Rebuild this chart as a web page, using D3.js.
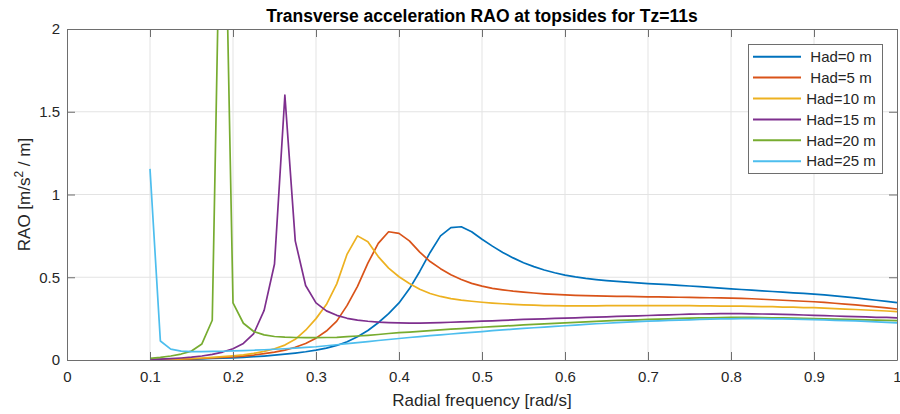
<!DOCTYPE html>
<html>
<head>
<meta charset="utf-8">
<script src="https://cdn.jsdelivr.net/npm/d3@7"></script>
<style>
  html, body { margin: 0; padding: 0; background: #ffffff; }
  svg { display: block; font-family: "Liberation Sans", Arial, Helvetica, sans-serif; }
</style>
</head>
<body>
<svg id="chart" width="900" height="414"></svg>
<script>
// Radial frequency grid [rad/s]
const freq = [
  0.1, 0.1125, 0.125, 0.1375, 0.15, 0.1625, 0.175, 0.1875, 0.2, 0.2125,
  0.225, 0.2375, 0.25, 0.2625, 0.275, 0.2875, 0.3, 0.3125, 0.325, 0.3375,
  0.35, 0.3625, 0.375, 0.3875, 0.4, 0.4125, 0.425, 0.4375, 0.45, 0.4625,
  0.475, 0.4875, 0.5, 0.5125, 0.525, 0.5375, 0.55, 0.5625, 0.575, 0.5875,
  0.6, 0.6125, 0.625, 0.6375, 0.65, 0.6625, 0.675, 0.6875, 0.7, 0.7125,
  0.725, 0.7375, 0.75, 0.7625, 0.775, 0.7875, 0.8, 0.8125, 0.825, 0.8375,
  0.85, 0.8625, 0.875, 0.8875, 0.9, 0.9125, 0.925, 0.9375, 0.95, 0.9625,
  0.975, 0.9875, 1.0
];

// Transverse acceleration RAO [m/s^2 / m] per hull draft
const had0 = [
  0.001, 0.002, 0.003, 0.004, 0.005, 0.007, 0.009, 0.011, 0.013, 0.016,
  0.020, 0.024, 0.029, 0.035, 0.042, 0.050, 0.060, 0.072, 0.088, 0.110,
  0.140, 0.178, 0.225, 0.280, 0.345, 0.430, 0.535, 0.650, 0.750, 0.800,
  0.805, 0.775, 0.730, 0.688, 0.650, 0.617, 0.588, 0.564, 0.544, 0.527,
  0.513, 0.502, 0.493, 0.486, 0.480, 0.475, 0.470, 0.466, 0.462, 0.458,
  0.455, 0.451, 0.447, 0.443, 0.439, 0.434, 0.430, 0.426, 0.422, 0.418,
  0.414, 0.410, 0.406, 0.402, 0.398, 0.393, 0.387, 0.381, 0.375, 0.368,
  0.361, 0.354, 0.347
];
const had5 = [
  0.001, 0.002, 0.003, 0.005, 0.007, 0.009, 0.012, 0.015, 0.019, 0.024,
  0.030, 0.038, 0.048, 0.060, 0.077, 0.100, 0.132, 0.175, 0.235, 0.330,
  0.445, 0.585, 0.705, 0.775, 0.765, 0.720, 0.652, 0.595, 0.552, 0.515,
  0.486, 0.463, 0.446, 0.433, 0.424, 0.416, 0.410, 0.405, 0.400, 0.396,
  0.393, 0.391, 0.389, 0.387, 0.386, 0.385, 0.384, 0.383, 0.382, 0.381,
  0.380, 0.379, 0.378, 0.377, 0.376, 0.375, 0.374, 0.372, 0.370, 0.367,
  0.364, 0.361, 0.358, 0.355, 0.352, 0.348, 0.343, 0.338, 0.333, 0.327,
  0.321, 0.315, 0.308
];
const had10 = [
  0.002, 0.003, 0.005, 0.007, 0.009, 0.012, 0.016, 0.020, 0.025, 0.031,
  0.040, 0.052, 0.068, 0.090, 0.125, 0.180, 0.250, 0.335, 0.460, 0.640,
  0.750, 0.715, 0.625, 0.555, 0.503, 0.462, 0.428, 0.402, 0.384, 0.371,
  0.362, 0.355, 0.349, 0.344, 0.340, 0.336, 0.333, 0.331, 0.329, 0.328,
  0.327, 0.327, 0.327, 0.327, 0.328, 0.328, 0.328, 0.329, 0.329, 0.329,
  0.329, 0.328, 0.328, 0.327, 0.327, 0.326, 0.326, 0.325, 0.324, 0.323,
  0.322, 0.320, 0.319, 0.317, 0.316, 0.314, 0.311, 0.308, 0.305, 0.302,
  0.299, 0.296, 0.292
];
const had15 = [
  0.003, 0.005, 0.008, 0.012, 0.017, 0.024, 0.034, 0.048, 0.068, 0.100,
  0.160, 0.300, 0.580, 1.600, 0.720, 0.450, 0.345, 0.297, 0.270, 0.252,
  0.241, 0.234, 0.229, 0.226, 0.224, 0.223, 0.223, 0.224, 0.226, 0.228,
  0.230, 0.232, 0.235, 0.237, 0.240, 0.242, 0.245, 0.247, 0.249, 0.251,
  0.253, 0.255, 0.257, 0.259, 0.261, 0.263, 0.265, 0.267, 0.269, 0.271,
  0.273, 0.275, 0.277, 0.278, 0.279, 0.280, 0.280, 0.280, 0.279, 0.278,
  0.277, 0.276, 0.274, 0.272, 0.270, 0.268, 0.266, 0.264, 0.262, 0.260,
  0.258, 0.257, 0.255
];
const had20 = [
  0.010, 0.016, 0.024, 0.036, 0.054, 0.097, 0.240, 3.600, 0.345, 0.222,
  0.172, 0.152, 0.142, 0.138, 0.136, 0.135, 0.135, 0.136, 0.137, 0.141,
  0.145, 0.149, 0.154, 0.160, 0.165, 0.169, 0.173, 0.177, 0.182, 0.186,
  0.190, 0.194, 0.198, 0.202, 0.205, 0.208, 0.212, 0.215, 0.218, 0.221,
  0.224, 0.227, 0.230, 0.233, 0.236, 0.239, 0.241, 0.243, 0.245, 0.247,
  0.249, 0.251, 0.253, 0.254, 0.255, 0.256, 0.257, 0.257, 0.257, 0.256,
  0.255, 0.254, 0.253, 0.251, 0.250, 0.249, 0.247, 0.246, 0.244, 0.243,
  0.241, 0.240, 0.238
];
const had25 = [
  1.155, 0.115, 0.066, 0.054, 0.051, 0.051, 0.052, 0.053, 0.055, 0.057,
  0.059, 0.062, 0.065, 0.068, 0.072, 0.076, 0.080, 0.086, 0.092, 0.099,
  0.105, 0.111, 0.118, 0.124, 0.130, 0.136, 0.141, 0.147, 0.152, 0.157,
  0.162, 0.167, 0.172, 0.177, 0.182, 0.186, 0.191, 0.195, 0.199, 0.203,
  0.207, 0.211, 0.215, 0.219, 0.222, 0.226, 0.229, 0.232, 0.235, 0.237,
  0.239, 0.241, 0.243, 0.245, 0.247, 0.248, 0.249, 0.250, 0.250, 0.250,
  0.249, 0.248, 0.247, 0.245, 0.244, 0.242, 0.240, 0.238, 0.236, 0.233,
  0.230, 0.227, 0.224
];

const seriesNames = ["Had=0 m", "Had=5 m", "Had=10 m", "Had=15 m", "Had=20 m", "Had=25 m"];
const seriesValues = [had0, had5, had10, had15, had20, had25];
const seriesColors = ["#0072BD", "#D95319", "#EDB120", "#7E2F8E", "#77AC30", "#4DBEEE"];

const xTicks = [0, 0.1, 0.2, 0.3, 0.4, 0.5, 0.6, 0.7, 0.8, 0.9, 1];
const yTicks = [0, 0.5, 1, 1.5, 2];

const titleText = "Transverse acceleration RAO at topsides for Tz=11s";
const xLabelText = "Radial frequency [rad/s]";

// Plot frame
const plotL = 67, plotR = 897, plotT = 29, plotB = 360;
const axisColor = "#6e6e6e";
const gridColor = "#e3e3e3";
const textColor = "#262626";

const svg = d3.select("#chart");
const x = d3.scaleLinear().domain([0, 1]).range([plotL, plotR]);
const y = d3.scaleLinear().domain([0, 2]).range([plotB, plotT]);

// Grid
const grid = svg.append("g");
grid.selectAll("line.gx").data(xTicks.slice(1, -1)).join("line")
  .attr("x1", d => x(d)).attr("x2", d => x(d))
  .attr("y1", plotT).attr("y2", plotB)
  .attr("stroke", gridColor).attr("stroke-width", 1);
grid.selectAll("line.gy").data(yTicks.slice(1, -1)).join("line")
  .attr("x1", plotL).attr("x2", plotR)
  .attr("y1", d => y(d)).attr("y2", d => y(d))
  .attr("stroke", gridColor).attr("stroke-width", 1);

// Curves, clipped to the axes box
svg.append("clipPath").attr("id", "plotClip")
  .append("rect").attr("x", plotL).attr("y", plotT)
  .attr("width", plotR - plotL).attr("height", plotB - plotT);

const line = d3.line()
  .x((d, i) => x(freq[i]))
  .y(d => y(d));

svg.append("g").attr("clip-path", "url(#plotClip)")
  .selectAll("path").data(seriesValues).join("path")
  .attr("d", d => line(d))
  .attr("fill", "none")
  .attr("stroke", (d, i) => seriesColors[i])
  .attr("stroke-width", 1.7)
  .attr("stroke-linejoin", "round");

// Axes (box with inward ticks on all four sides)
const tickLen = 8;
const fmt = d => d3.format("~g")(d);

const xAxisB = d3.axisBottom(x).tickValues(xTicks).tickSizeInner(-tickLen).tickSizeOuter(0).tickPadding(11).tickFormat(fmt);
const xAxisT = d3.axisTop(x).tickValues(xTicks).tickSizeInner(-tickLen).tickSizeOuter(0).tickFormat("");
const yAxisL = d3.axisLeft(y).tickValues(yTicks).tickSizeInner(-tickLen).tickSizeOuter(0).tickPadding(7).tickFormat(fmt);
const yAxisR = d3.axisRight(y).tickValues(yTicks).tickSizeInner(-tickLen).tickSizeOuter(0).tickFormat("");

function styleAxis(g) {
  g.select(".domain").attr("stroke", axisColor);
  g.selectAll(".tick line").attr("stroke", axisColor);
  g.selectAll(".tick text").attr("fill", textColor)
    .style("font-size", "15px")
    .style("font-family", "'Liberation Sans', Arial, sans-serif");
}

svg.append("g").attr("transform", `translate(0,${plotB})`).call(xAxisB).call(styleAxis);
svg.append("g").attr("transform", `translate(0,${plotT})`).call(xAxisT).call(styleAxis);
svg.append("g").attr("transform", `translate(${plotL},0)`).call(yAxisL).call(styleAxis);
svg.append("g").attr("transform", `translate(${plotR},0)`).call(yAxisR).call(styleAxis);

// Title and axis labels
svg.append("text")
  .attr("x", (plotL + plotR) / 2).attr("y", 21.5)
  .attr("text-anchor", "middle")
  .attr("fill", "#000")
  .style("font-size", "17.5px").style("font-weight", "bold")
  .text(titleText);

svg.append("text")
  .attr("x", (plotL + plotR) / 2).attr("y", 406)
  .attr("text-anchor", "middle")
  .attr("fill", textColor)
  .style("font-size", "17px")
  .text(xLabelText);

const yl = svg.append("text")
  .attr("transform", `translate(30,${(plotT + plotB) / 2}) rotate(-90)`)
  .attr("text-anchor", "middle")
  .attr("fill", textColor)
  .style("font-size", "17px");
yl.append("tspan").text("RAO [m/s");
yl.append("tspan").attr("dy", -7).style("font-size", "12px").text("2");
yl.append("tspan").attr("dy", 7).text(" / m]");

// Legend
const lgX = 748, lgY = 44, lgW = 134, lgH = 129, rowH = 20.9;
const legend = svg.append("g");
legend.append("rect")
  .attr("x", lgX + 0.5).attr("y", lgY + 0.5)
  .attr("width", lgW).attr("height", lgH)
  .attr("fill", "#fff").attr("stroke", axisColor).attr("stroke-width", 1);

const rows = legend.selectAll("g.row").data(seriesNames).join("g")
  .attr("transform", (d, i) => `translate(0,${lgY + 12.7 + i * rowH})`);
rows.append("line")
  .attr("x1", lgX + 5).attr("x2", lgX + 53)
  .attr("y1", 0).attr("y2", 0)
  .attr("stroke", (d, i) => seriesColors[i]).attr("stroke-width", 2);
rows.append("text")
  .attr("x", lgX + 93).attr("y", 0).attr("dy", "0.35em")
  .attr("text-anchor", "middle")
  .attr("fill", textColor)
  .style("font-size", "15px")
  .text(d => d);
</script>
</body>
</html>
